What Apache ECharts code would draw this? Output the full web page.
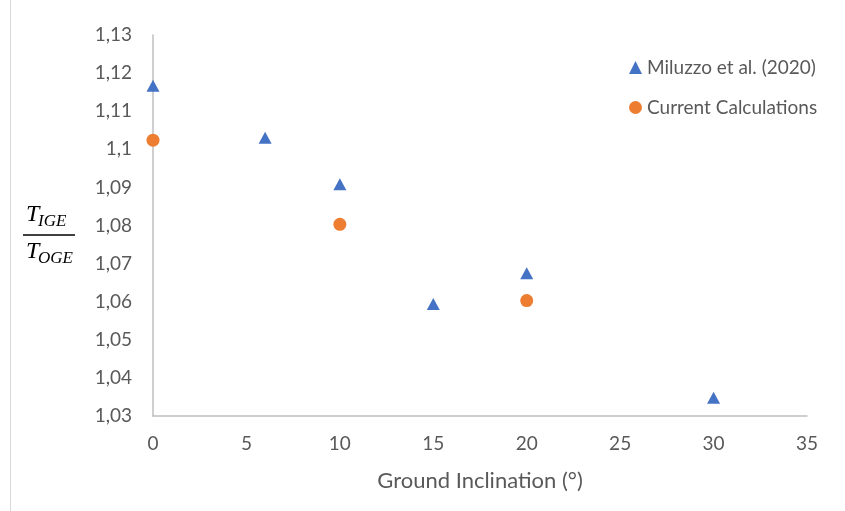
<!DOCTYPE html>
<html>
<head>
<meta charset="utf-8">
<script src="https://cdn.jsdelivr.net/npm/echarts@6/dist/echarts.min.js"></script>
<style>
  html, body { margin: 0; padding: 0; background: #fff; }
  #chart { width: 845px; height: 511px; }
</style>
</head>
<body>
<div id="chart"></div>
<script>
// Ground inclination (degrees) and thrust ratio T_IGE / T_OGE
const miluzzoInclination = [0, 6, 10, 15, 20, 30];
const miluzzoRatio = [1.1167, 1.1030, 1.0908, 1.0594, 1.0675, 1.0348];
const currentInclination = [0, 10, 20];
const currentRatio = [1.1024, 1.0803, 1.0603];

const seriesNames = ['Miluzzo et al. (2020)', 'Current Calculations'];
const xTitle = 'Ground Inclination (°)';

const font = 'Lato, "Open Sans", sans-serif';
const mathFont = '"Liberation Serif", "DejaVu Serif", serif';
const textColor = '#595959';
const axisColor = '#bfbfbf';

const zip = (xs, ys) => xs.map((x, i) => [x, ys[i]]);

const chart = echarts.init(document.getElementById('chart'), null, { renderer: 'canvas' });

chart.setOption({
  animation: false,
  backgroundColor: '#ffffff',
  grid: { left: 153, right: 38, top: 35, bottom: 95 },
  legend: {
    orient: 'vertical',
    left: 624,
    top: 53,
    itemWidth: 13,
    itemHeight: 13,
    itemGap: 21,
    textStyle: { color: textColor, fontFamily: font, fontSize: 19 },
    data: [
      { name: seriesNames[0], icon: 'triangle' },
      { name: seriesNames[1], icon: 'circle' }
    ]
  },
  xAxis: {
    type: 'value',
    min: 0,
    max: 35,
    interval: 5,
    name: xTitle,
    nameLocation: 'middle',
    nameGap: 54,
    nameTextStyle: { color: textColor, fontFamily: font, fontSize: 22 },
    axisLine: { show: true, lineStyle: { color: axisColor, width: 1.5 } },
    axisTick: { show: false },
    splitLine: { show: false },
    axisLabel: { color: textColor, fontFamily: font, fontSize: 19, margin: 18 }
  },
  yAxis: {
    type: 'value',
    min: 1.03,
    max: 1.13,
    interval: 0.01,
    axisLine: { show: true, lineStyle: { color: axisColor, width: 1.5 } },
    axisTick: { show: false },
    splitLine: { show: false },
    axisLabel: {
      color: textColor, fontFamily: font, fontSize: 19, margin: 21,
      formatter: v => String(+v.toFixed(2)).replace('.', ',')
    }
  },
  series: [
    {
      name: seriesNames[0],
      type: 'scatter',
      symbol: 'triangle',
      symbolSize: [13, 12],
      itemStyle: { color: '#4472C4', opacity: 1 },
      data: zip(miluzzoInclination, miluzzoRatio)
    },
    {
      name: seriesNames[1],
      type: 'scatter',
      symbol: 'circle',
      symbolSize: 13,
      itemStyle: { color: '#ED7D31', opacity: 1 },
      data: zip(currentInclination, currentRatio)
    }
  ],
  graphic: [
    // outer frame edge on the left
    { type: 'line', shape: { x1: 10.5, y1: 0, x2: 10.5, y2: 511 }, style: { stroke: '#d9d9d9', lineWidth: 1 } },
    // y-axis title as a fraction T_IGE / T_OGE
    { type: 'text', left: 26, top: 203, style: { text: 'T', font: 'italic 24px ' + mathFont, fill: '#000' } },
    { type: 'text', left: 38, top: 213, style: { text: 'IGE', font: 'italic 17px ' + mathFont, fill: '#000' } },
    { type: 'line', shape: { x1: 23, y1: 235, x2: 75, y2: 235 }, style: { stroke: '#000', lineWidth: 1.3 } },
    { type: 'text', left: 26, top: 240, style: { text: 'T', font: 'italic 24px ' + mathFont, fill: '#000' } },
    { type: 'text', left: 38, top: 250, style: { text: 'OGE', font: 'italic 17px ' + mathFont, fill: '#000' } }
  ]
});
</script>
</body>
</html>
